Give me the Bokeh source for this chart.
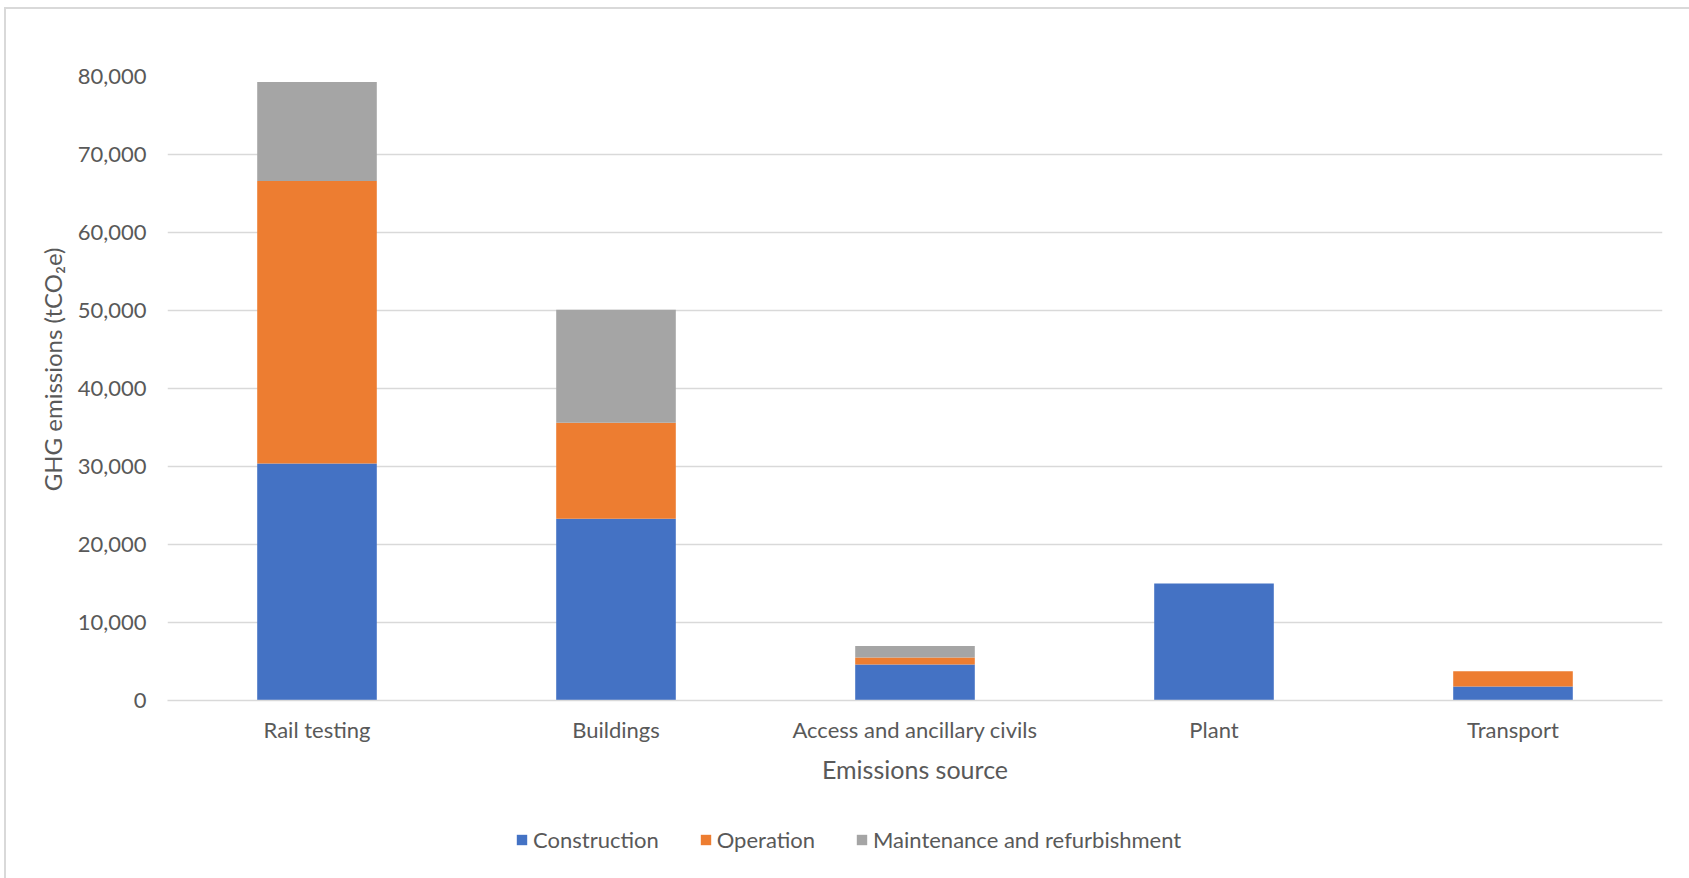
from bokeh.plotting import figure
from bokeh.layouts import column
from bokeh.models import (FactorRange, Range1d, FixedTicker, NumeralTickFormatter,
                          Legend, LegendItem, Title)
from bokeh.embed import file_html
from bokeh.resources import INLINE

categories = ["Rail testing", "Buildings", "Access and ancillary civils", "Plant", "Transport"]
series_names = ["Construction", "Operation", "Maintenance and refurbishment"]
construction = [30400, 23300, 4600, 15000, 1800]
operation = [36200, 12300, 900, 0, 1950]
maintenance = [12700, 14500, 1500, 0, 0]
y_ticks = [0, 10000, 20000, 30000, 40000, 50000, 60000, 70000, 80000]

colors = ["#4472C4", "#ED7D31", "#A5A5A5"]
FONT = "Lato"
TXT = "#595959"
GRID = "#d9d9d9"

data = {"cat": categories, "Construction": construction, "Operation": operation,
        "Maintenance and refurbishment": maintenance}

p = figure(width=1689, height=800, x_range=FactorRange(*categories),
           y_range=Range1d(0, 80000), output_backend="svg", toolbar_location=None,
           min_border_left=167, min_border_right=27, min_border_top=76,
           min_border_bottom=100)

p.vbar_stack(series_names, x="cat", width=0.4, source=data,
             color=colors, line_color=None)

p.border_fill_color = None
p.background_fill_color = "white"
p.outline_line_color = None
p.styles = {
    "background": ("linear-gradient(#d9d9d9,#d9d9d9) 4px 7px / 2px 100% no-repeat, "
                   "linear-gradient(#d9d9d9,#d9d9d9) 4px 7px / 100% 2px no-repeat, white")
}

# grid
p.xgrid.grid_line_color = None
p.ygrid.grid_line_color = GRID
p.ygrid.grid_line_width = 1.5
p.yaxis.ticker = FixedTicker(ticks=y_ticks)
p.yaxis.formatter = NumeralTickFormatter(format="0,0")

# y axis
p.yaxis.axis_line_color = None
p.yaxis.major_tick_line_color = None
p.yaxis.minor_tick_line_color = None
p.yaxis.major_label_standoff = 15
p.yaxis.major_label_text_font = FONT
p.yaxis.major_label_text_font_size = "22px"
p.yaxis.major_label_text_color = TXT

ytitle = Title(text="GHG emissions (tCO\u2082e)", align="right", offset=171,
               text_font=FONT, text_font_size="24px", text_font_style="normal",
               text_color=TXT, standoff=16)
p.add_layout(ytitle, "left")

# x axis
p.xaxis.axis_line_color = GRID
p.xaxis.axis_line_width = 1.5
p.xaxis.major_tick_line_color = None
p.xaxis.minor_tick_line_color = None
p.xaxis.major_label_standoff = 9
p.xaxis.major_label_text_font = FONT
p.xaxis.major_label_text_font_size = "22px"
p.xaxis.major_label_text_color = TXT
p.xaxis.axis_label = "Emissions source"
p.xaxis.axis_label_text_font = FONT
p.xaxis.axis_label_text_font_size = "25px"
p.xaxis.axis_label_text_font_style = "normal"
p.xaxis.axis_label_text_color = TXT
p.xaxis.axis_label_standoff = 8

# legend strip below the chart
pl = figure(width=1689, height=78, output_backend="svg", toolbar_location=None,
            x_axis_location=None, y_axis_location=None,
            min_border_left=0, min_border_right=0, min_border_top=0, min_border_bottom=0,
            x_range=Range1d(0, 1), y_range=Range1d(0, 1))
pl.grid.grid_line_color = None
pl.outline_line_color = None
pl.border_fill_color = None
pl.background_fill_color = None
pl.styles = {
    "background": "linear-gradient(#d9d9d9,#d9d9d9) 4px 0px / 2px 100% no-repeat, white"
}
# legend-only renderers with zero height (nothing visible in the strip)
dummies = [pl.vbar(x=[0.5], top=[0], bottom=[0], width=0.0, color=c, line_color=None)
           for c in colors]

legend = Legend(items=[LegendItem(label=n, renderers=[r]) for n, r in zip(series_names, dummies)],
                orientation="horizontal", location=(348, 25))
legend.padding = 0
legend.margin = 0
legend.spacing = 40
legend.label_standoff = 5
legend.glyph_width = 13
legend.glyph_height = 13
legend.label_text_font = FONT
legend.label_text_font_size = "22px"
legend.label_text_color = TXT
legend.border_line_color = None
legend.background_fill_alpha = 0
pl.add_layout(legend, "center")

layout = column(p, pl, spacing=0)
open("out.html", "w").write(file_html(layout, INLINE))
